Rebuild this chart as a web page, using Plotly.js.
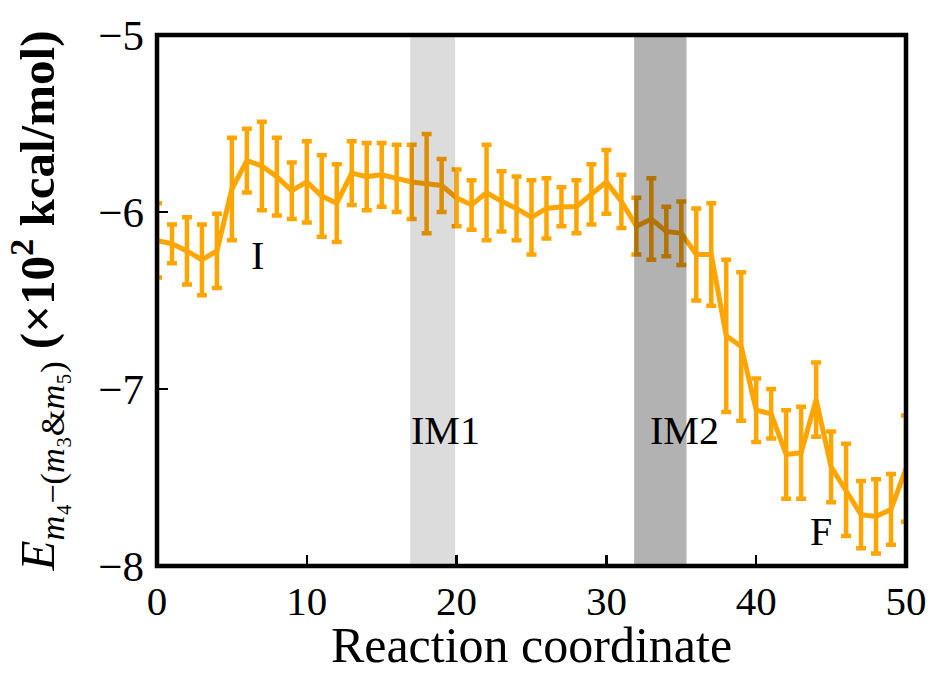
<!DOCTYPE html>
<html>
<head>
<meta charset="utf-8">
<script src="https://cdn.plot.ly/plotly-3.0.1.min.js"></script>
<style>
html,body{margin:0;padding:0;background:#fff;}
#chart{width:932px;height:673px;}
</style>
</head>
<body>
<div id="chart"></div>
<script>
// Reaction coordinate (frame index)
const coord = [0,1,2,3,4,5,6,7,8,9,10,11,12,13,14,15,16,17,18,19,20,21,22,23,24,25,26,27,28,29,30,31,32,33,34,35,36,37,38,39,40,41,42,43,44,45,46,47,48,49,50];
// Energy (x10^2 kcal/mol)
const energy = [-6.16,-6.18,-6.22,-6.27,-6.22,-5.87,-5.71,-5.74,-5.80,-5.88,-5.83,-5.91,-5.95,-5.78,-5.80,-5.79,-5.81,-5.83,-5.84,-5.85,-5.92,-5.96,-5.89,-5.94,-5.98,-6.03,-5.98,-5.97,-5.97,-5.90,-5.83,-5.94,-6.08,-6.04,-6.11,-6.12,-6.24,-6.24,-6.70,-6.76,-7.12,-7.14,-7.37,-7.36,-7.06,-7.44,-7.57,-7.71,-7.72,-7.68,-7.45];
// Error (standard deviation)
const errors = [0.21,0.11,0.19,0.20,0.21,0.29,0.18,0.25,0.22,0.16,0.23,0.23,0.22,0.18,0.19,0.18,0.19,0.21,0.28,0.15,0.16,0.14,0.27,0.17,0.18,0.21,0.17,0.11,0.15,0.17,0.18,0.15,0.16,0.23,0.14,0.18,0.26,0.29,0.43,0.42,0.18,0.14,0.25,0.26,0.21,0.20,0.26,0.19,0.21,0.20,0.30];
// Shaded intermediate regions (translucent dark overlays: light and dark gray)
const bandStarts = [16.9, 31.85];
const bandEnds = [19.9, 35.35];
const bandColors = ['rgba(0,0,0,0.137)', 'rgba(0,0,0,0.30)'];
// State labels
const labelText = ['I', 'IM1', 'IM2', 'F'];
const labelX = [6.68, 19.25, 35.24, 44.3];
const labelY = [-6.245, -7.236, -7.236, -7.805];

const serif = 'Liberation Serif, Times New Roman, serif';

const trace = {
  x: coord, y: energy, type: 'scatter', mode: 'lines',
  line: {color: '#ffa500', width: 5},
  error_y: {type: 'data', array: errors, visible: true, color: '#ffa500', thickness: 4.5, width: 5},
  hoverinfo: 'x+y', showlegend: false
};

const shapes = bandStarts.map((s, i) => ({
  type: 'rect', xref: 'x', yref: 'paper', x0: s, x1: bandEnds[i], y0: 0, y1: 1,
  fillcolor: bandColors[i], line: {width: 0}, layer: 'above', name: 'band' + i
}));
shapes.push({type: 'rect', xref: 'paper', yref: 'paper', x0: 0, x1: 1, y0: 0, y1: 1,
  line: {color: '#000', width: 4.5}, fillcolor: 'rgba(0,0,0,0)', layer: 'above', name: 'frame'});

const annotations = labelText.map((t, i) => ({
  x: labelX[i], y: labelY[i], xref: 'x', yref: 'y', text: t, showarrow: false,
  font: {family: serif, size: 40, color: '#000'}, xanchor: 'center', yanchor: 'middle'
}));

const layout = {
  width: 932, height: 673,
  margin: {l: 157, r: 26, t: 35, b: 107},
  paper_bgcolor: '#fff', plot_bgcolor: '#fff',
  showlegend: false,
  font: {family: serif, color: '#000'},
  xaxis: {
    range: [0, 50], tickvals: [0, 10, 20, 30, 40, 50], ticktext: ['0','10','20','30','40','50'],
    ticks: 'inside', ticklen: 11, tickwidth: 2.5, tickcolor: '#000',
    showgrid: false, zeroline: false, showline: false, mirror: false,
    tickfont: {family: serif, size: 41, color: '#000'}, ticklabelstandoff: 7,
    title: {text: 'Reaction coordinate', font: {family: serif, size: 50, color: '#000'}, standoff: 18},
    automargin: false
  },
  yaxis: {
    range: [-8, -5], tickvals: [-8, -7, -6, -5],
    ticks: 'inside', ticklen: 11, tickwidth: 2.5, tickcolor: '#000',
    showgrid: false, zeroline: false, showline: false, mirror: false,
    tickfont: {family: serif, size: 43, color: '#000'}, ticklabelstandoff: 12,
    title: {text: '<i>E</i><sub><i>m</i>₄−(<i>m</i>₃&amp;<i>m</i>₅)</sub> <b>(×10<sup>2</sup> kcal/mol)</b>',
      font: {family: serif, size: 49, color: '#000'}, standoff: 28},
    automargin: false
  },
  shapes: shapes,
  annotations: annotations
};

Plotly.newPlot('chart', [trace], layout, {displayModeBar: false, staticPlot: true});
</script>
</body>
</html>
